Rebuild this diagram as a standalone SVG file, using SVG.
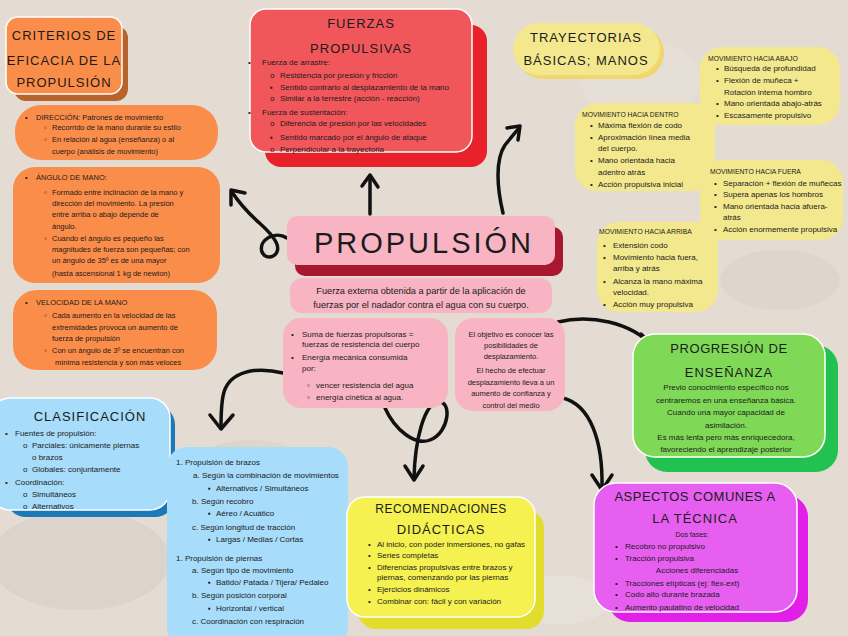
<svg xmlns="http://www.w3.org/2000/svg" width="848" height="636" viewBox="0 0 848 636">
<defs>
<style>
text{font-family:"Liberation Sans",Arial,sans-serif;fill:#1b1b1b}
.t{font-size:13px;letter-spacing:1px;text-anchor:middle}
.s75{font-size:7.5px}
.s8{font-size:8px}
.h{font-size:6.8px}
.c{text-anchor:middle}
.edge{stroke:#ffffff;stroke-width:1.5}
.arr{fill:none;stroke:#111;stroke-width:3.5;stroke-linecap:round;stroke-linejoin:round}
.orange{fill:#fb8d4a}
.ylw{fill:#f3e88e}
.pink{fill:#f9b4c4}
.blue{fill:#a7dcfa}
</style>
</defs>
<rect width="848" height="636" fill="#e4dcd3"/>
<g opacity="0.18">
<ellipse cx="80" cy="560" rx="90" ry="50" fill="#b8afa6"/>
<ellipse cx="250" cy="470" rx="60" ry="30" fill="#c2b9b0"/>
<ellipse cx="560" cy="600" rx="50" ry="25" fill="#f6f2ee"/>
<ellipse cx="780" cy="280" rx="60" ry="30" fill="#c3bab1"/>
<ellipse cx="640" cy="80" rx="60" ry="40" fill="#f4efe9"/>
</g>

<g id="connectors">
<path class="arr" d="M370,214 L370,176"/>
<path class="arr" d="M362,186 L370,175 L378,187"/>
<path class="arr" d="M503,213 C497,188 495,160 505,145 L519,128"/>
<path class="arr" d="M507,128 L520,126 L518,140"/>
<path class="arr" d="M287,238 C275,230 258,240 262,252 C266,262 283,256 276,242 C268,226 250,220 232,192"/>
<path class="arr" d="M231,205 L231,190 L245,193"/>
<path class="arr" d="M283,373 C255,366 230,372 224,392 C221,402 221,415 221,428"/>
<path class="arr" d="M210,415 L221,429 L233,415"/>
<path class="arr" d="M385,408 C395,430 415,446 430,440 C450,432 452,400 438,402 C424,404 415,440 414,478"/>
<path class="arr" d="M405,466 L414,480 L423,466"/>
<path class="arr" d="M558,322 C590,314 630,322 653,346"/>
<path class="arr" d="M641,334 L654,347 L638,351"/>
<path class="arr" d="M563,398 C590,405 603,440 602,488"/>
<path class="arr" d="M592,475 L602,490 L612,475"/>
</g>

<g id="criterios">
<rect x="14" y="26" width="114" height="75" rx="12" fill="#b8632c"/>
<rect x="6" y="17" width="116" height="77" rx="12" class="orange edge"/>
<text class="t" x="64" y="40">CRITERIOS DE</text>
<text class="t" x="64" y="65">EFICACIA DE LA</text>
<text class="t" x="64" y="87">PROPULSIÓN</text>
</g>

<g id="direccion" class="s75">
<rect x="15" y="105" width="203" height="55" rx="26" class="orange"/>
<text x="25" y="120">•</text><text x="36" y="120">DIRECCIÓN: Patrones de movimiento</text>
<text x="44" y="130">▫</text><text x="52" y="130">Recorrido de la mano durante su estilo</text>
<text x="44" y="141.5">▫</text><text x="52" y="141.5">En relación al agua (enseñanza) o al</text>
<text x="52" y="154">cuerpo (análisis de movimiento)</text>
</g>

<g id="angulo" class="s75">
<rect x="13" y="167" width="207" height="116" rx="22" class="orange"/>
<text x="25" y="180">•</text><text x="36" y="180">ÁNGULO DE MANO:</text>
<text x="44" y="195">▫</text><text x="52" y="195">Formado entre inclinación de la mano y</text>
<text x="52" y="206">dirección del movimiento. La presión</text>
<text x="52" y="217">entre arriba o abajo depende de</text>
<text x="52" y="229">ángulo.</text>
<text x="44" y="241">▫</text><text x="52" y="241">Cuando el ángulo es pequeño las</text>
<text x="52" y="252">magnitudes de fuerza son pequeñas; con</text>
<text x="52" y="263">un ángulo de 35º es de una mayor</text>
<text x="52" y="276">(hasta ascensional 1 kg de newton)</text>
</g>

<g id="velocidad" class="s75">
<rect x="13" y="290" width="204" height="80" rx="24" class="orange"/>
<text x="25" y="305">•</text><text x="36" y="305">VELOCIDAD DE LA MANO</text>
<text x="44" y="318">▫</text><text x="52" y="318">Cada aumento en la velocidad de las</text>
<text x="52" y="330">extremidades provoca un aumento de</text>
<text x="52" y="341">fuerza de propulsión</text>
<text x="44" y="353">▫</text><text x="52" y="353">Con un ángulo de 3º se encuentran con</text>
<text x="55" y="365">mínima resistencia y son más veloces</text>
</g>

<g id="fuerzas" class="s8">
<rect x="265" y="25" width="222" height="142" rx="16" fill="#e8212b"/>
<rect x="250" y="9" width="222" height="143" rx="16" fill="#f1565b" class="edge"/>
<text class="t" x="361" y="28">FUERZAS</text>
<text class="t" x="361" y="53">PROPULSIVAS</text>
<text x="248" y="65">•</text><text x="262" y="65">Fuerza de arrastre:</text>
<text x="270" y="78">o</text><text x="280" y="78">Resistencia por presión y fricción</text>
<text x="270" y="90">▪</text><text x="280" y="90">Sentido contrario al desplazamiento de la mano</text>
<text x="270" y="101">o</text><text x="280" y="101">Similar a la terrestre (acción - reacción)</text>
<text x="248" y="115">•</text><text x="262" y="115">Fuerza de sustentación:</text>
<text x="270" y="126">o</text><text x="280" y="126">Diferencia de presión por las velocidades</text>
<text x="270" y="140">▪</text><text x="280" y="140">Sentido marcado por el ángulo de ataque</text>
<text x="270" y="152">o</text><text x="280" y="152">Perpendicular a la trayectoria</text>
</g>

<g id="trayectorias">
<rect x="517" y="27" width="147" height="52" rx="26" fill="#f0d66c"/>
<rect x="513" y="23" width="147" height="52" rx="26" fill="#f4e88f"/>
<text class="t" x="586" y="42">TRAYECTORIAS</text>
<text class="t" x="586" y="65">BÁSICAS; MANOS</text>
</g>

<g id="mov-abajo" class="s8">
<rect x="700" y="47" width="140" height="78" rx="22" class="ylw"/>
<text class="h" x="708" y="60.5">MOVIMIENTO HACIA ABAJO</text>
<text x="716" y="71">•</text><text x="724" y="71">Búsqueda de profundidad</text>
<text x="716" y="83">•</text><text x="724" y="83">Flexión de muñeca +</text>
<text x="724" y="95">Rotación interna hombro</text>
<text x="716" y="106">•</text><text x="724" y="106">Mano orientada abajo-atrás</text>
<text x="716" y="118">•</text><text x="724" y="118">Escasamente propulsivo</text>
</g>

<g id="mov-dentro" class="s8">
<rect x="575" y="103" width="140" height="88" rx="22" class="ylw"/>
<text class="h" x="582" y="116.5">MOVIMIENTO HACIA DENTRO</text>
<text x="590" y="128">•</text><text x="598" y="128">Máxima flexión de codo</text>
<text x="590" y="140">•</text><text x="598" y="140">Aproximación línea media</text>
<text x="598" y="151">del cuerpo.</text>
<text x="590" y="163">•</text><text x="598" y="163">Mano orientada hacia</text>
<text x="598" y="175">adentro atrás</text>
<text x="590" y="187">•</text><text x="598" y="187">Acción propulsiva inicial</text>
</g>

<g id="mov-fuera" class="s8">
<rect x="700" y="160" width="143" height="80" rx="22" class="ylw"/>
<text class="h" x="710" y="173.5">MOVIMIENTO HACIA FUERA</text>
<text x="714" y="186">•</text><text x="723" y="186">Separación + flexión de muñecas</text>
<text x="714" y="197">•</text><text x="723" y="197">Supera apenas los hombros</text>
<text x="714" y="209">•</text><text x="723" y="209">Mano orientada hacia afuera-</text>
<text x="723" y="220">atrás</text>
<text x="714" y="232">•</text><text x="723" y="232">Acción enormemente propulsiva</text>
</g>

<g id="mov-arriba" class="s8">
<rect x="597" y="222" width="121" height="90" rx="22" class="ylw"/>
<text class="h" x="599" y="233.5">MOVIMIENTO HACIA ARRIBA</text>
<text x="603" y="248">•</text><text x="613" y="248">Extensión codo</text>
<text x="603" y="260">•</text><text x="613" y="260">Movimiento hacia fuera,</text>
<text x="613" y="271">arriba y atrás</text>
<text x="603" y="284">•</text><text x="613" y="284">Alcanza la mano máxima</text>
<text x="613" y="295">velocidad.</text>
<text x="603" y="307">•</text><text x="613" y="307">Acción muy propulsiva</text>
</g>

<g id="propulsion">
<rect x="295" y="227" width="268" height="49" rx="10" fill="#a8162f"/>
<rect x="287" y="216" width="268" height="49" rx="10" class="pink"/>
<text x="424" y="253" style="font-size:29px;letter-spacing:3px;text-anchor:middle">PROPULSIÓN</text>
</g>

<g id="definicion">
<rect x="290" y="278" width="262" height="35" rx="12" class="pink"/>
<text class="c" x="421" y="294" style="font-size:9.2px">Fuerza externa obtenida a partir de la aplicación de</text>
<text class="c" x="421" y="308" style="font-size:9.2px">fuerzas por el nadador contra el agua con su cuerpo.</text>
</g>

<g id="suma-fuerzas" class="s8">
<rect x="283" y="318" width="165" height="90" rx="18" class="pink"/>
<text x="291" y="337">•</text><text x="302" y="337">Suma de fuerzas propulsoras =</text>
<text x="302" y="347">fuerzas de resistencia del cuerpo</text>
<text x="291" y="360">•</text><text x="302" y="360">Energía mecánica consumida</text>
<text x="302" y="371">por:</text>
<text x="307" y="388">▫</text><text x="316" y="388">vencer resistencia del agua</text>
<text x="307" y="400">▫</text><text x="316" y="400">energía cinética al agua.</text>
</g>

<g id="objetivo" class="s75">
<rect x="455" y="318" width="110" height="93" rx="18" class="pink"/>
<text class="c" x="511" y="337">El objetivo es conocer las</text>
<text class="c" x="511" y="348">posibilidades de</text>
<text class="c" x="511" y="359">desplazamiento.</text>
<text class="c" x="511" y="373">El hecho de efectuar</text>
<text class="c" x="511" y="385">desplazamiento lleva a un</text>
<text class="c" x="511" y="396">aumento de confianza y</text>
<text class="c" x="511" y="408">control del medio</text>
</g>

<g id="clasificacion" class="s8">
<rect x="6" y="405" width="169" height="112" rx="20" fill="#1b79b9"/>
<rect x="-10" y="398" width="180" height="112" rx="20" class="blue edge"/>
<text class="t" x="90" y="421">CLASIFICACIÓN</text>
<text x="5" y="436">•</text><text x="15" y="436">Fuentes de propulsión:</text>
<text x="23" y="448">o</text><text x="32" y="448">Parciales: únicamente piernas</text>
<text x="32" y="460">o brazos</text>
<text x="23" y="472">o</text><text x="32" y="472">Globales: conjuntamente</text>
<text x="5" y="485">•</text><text x="15" y="485">Coordinación:</text>
<text x="23" y="497">o</text><text x="32" y="497">Simultáneos</text>
<text x="23" y="509">o</text><text x="32" y="509">Alternativos</text>
</g>

<g id="tipos-propulsion" class="s8">
<rect x="167" y="447" width="181" height="200" rx="20" class="blue"/>
<text x="176" y="465">1. Propulsión de brazos</text>
<text x="193" y="478">a. Según la combinación de movimientos</text>
<text x="208" y="491">▪</text><text x="216" y="491">Alternativos / Simultáneos</text>
<text x="192" y="504">b. Según recobro</text>
<text x="208" y="516">▪</text><text x="216" y="516">Aéreo / Acuático</text>
<text x="192" y="530">c. Según longitud de tracción</text>
<text x="208" y="542">▪</text><text x="216" y="542">Largas / Medias / Cortas</text>
<text x="176" y="561">1. Propulsión de piernas</text>
<text x="192" y="573">a. Según tipo de movimiento</text>
<text x="208" y="585">▪</text><text x="216" y="585">Batido/ Patada / Tijera/ Pedaleo</text>
<text x="192" y="598">b. Según posición corporal</text>
<text x="208" y="611">▪</text><text x="216" y="611">Horizontal / vertical</text>
<text x="192" y="624">c. Coordinación con respiración</text>
</g>

<g id="recomendaciones" class="s8">
<rect x="358" y="510" width="186" height="119" rx="18" fill="#e2dd2c"/>
<rect x="347" y="497" width="188" height="120" rx="18" fill="#f4f150" class="edge"/>
<text class="t" x="441" y="513" style="font-size:12px;letter-spacing:0.5px">RECOMENDACIONES</text>
<text class="t" x="441" y="534">DIDÁCTICAS</text>
<text x="368" y="547">•</text><text x="377" y="547">Al inicio, con poder inmersiones, no gafas</text>
<text x="368" y="558">•</text><text x="377" y="558">Series completas</text>
<text x="368" y="570">•</text><text x="377" y="570">Diferencias propulsivas entre brazos y</text>
<text x="377" y="580">piernas, comenzando por las piernas</text>
<text x="368" y="592">•</text><text x="377" y="592">Ejercicios dinámicos</text>
<text x="368" y="604">•</text><text x="377" y="604">Combinar con: fácil y con variación</text>
</g>

<g id="progresion" class="s8">
<rect x="645" y="345" width="193" height="127" rx="22" fill="#21c24f"/>
<rect x="633" y="334" width="192" height="123" rx="22" fill="#7fd957" class="edge"/>
<text class="t" x="729" y="353" style="letter-spacing:0.6px">PROGRESIÓN DE</text>
<text class="t" x="729" y="377">ENSEÑANZA</text>
<text class="c" x="726" y="390">Previo conocimiento específico nos</text>
<text class="c" x="726" y="403">centraremos en una enseñanza básica.</text>
<text class="c" x="726" y="415">Cuando una mayor capacidad de</text>
<text class="c" x="726" y="428">asimilación.</text>
<text class="c" x="726" y="440">Es más lenta pero más enriquecedora,</text>
<text class="c" x="726" y="452">favoreciendo el aprendizaje posterior</text>
</g>

<g id="aspectos" class="s8">
<rect x="608" y="495" width="200" height="127" rx="22" fill="#e11fe8"/>
<rect x="594" y="483" width="203" height="129" rx="22" fill="#e65ff0" class="edge"/>
<text class="t" x="695" y="501" style="letter-spacing:0.5px">ASPECTOS COMUNES A</text>
<text class="t" x="695" y="523">LA TÉCNICA</text>
<text class="c" x="692" y="537" style="font-size:7px">Dos fases:</text>
<text x="615" y="549">•</text><text x="625" y="549">Recobro no propulsivo</text>
<text x="615" y="561">•</text><text x="625" y="561">Tracción propulsiva</text>
<text class="c" x="697" y="573">Acciones diferenciadas</text>
<text x="615" y="586">•</text><text x="625" y="586">Tracciones elípticas (ej: flex-ext)</text>
<text x="615" y="597">•</text><text x="625" y="597">Codo alto durante brazada</text>
<text x="615" y="610">•</text><text x="625" y="610">Aumento paulatino de velocidad</text>
</g>
</svg>
